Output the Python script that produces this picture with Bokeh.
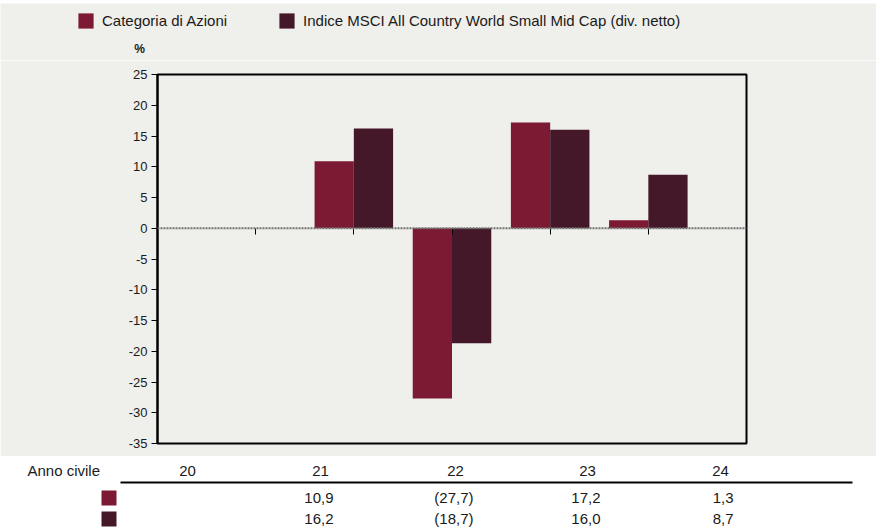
from bokeh.plotting import figure
from bokeh.models import (Range1d, Span, Legend, LegendItem, FixedTicker,
                          CustomJSTickFormatter)
from bokeh.layouts import column
from bokeh.embed import file_html
from bokeh.resources import INLINE
from bokeh.core.properties import value
import math

# ---------------- data ----------------
years = ["20", "21", "22", "23", "24"]
categoria = [float("nan"), 10.9, -27.7, 17.2, 1.3]
indice = [float("nan"), 16.2, -18.7, 16.0, 8.7]
series_names = ["Categoria di Azioni",
                "Indice MSCI All Country World Small Mid Cap (div. netto)"]
y_ticks = [-35, -30, -25, -20, -15, -10, -5, 0, 5, 10, 15, 20, 25]
y_unit = "%"
table_header = "Anno civile"

# ---------------- style ----------------
RED = "#7d1a33"
DARK = "#441829"
PANEL = "#efefeb"
TXT = "#1a1a1a"
FONT = "Liberation Sans"
W, H_LEG, H_TOP, H_BOT = 876, 60, 396, 72

pos = [i + 1 for i in range(len(years))]

# ---------------- legend strip ----------------
lg = figure(width=W, height=H_LEG, output_backend="svg", toolbar_location=None,
            x_range=Range1d(0, W), y_range=Range1d(H_LEG - 3, 0),
            min_border=0, min_border_top=3, background_fill_color=PANEL,
            border_fill_color="white", outline_line_color=None,
            x_axis_location=None, y_axis_location=None, frame_align=False)
lg.grid.visible = False
# legend proxies (hidden renderers carrying the same series)
lr1 = lg.vbar(x=pos, top=categoria, width=0.4, fill_color=RED, line_color=None, visible=False)
lr2 = lg.vbar(x=pos, top=indice, width=0.4, fill_color=DARK, line_color=None, visible=False)
legend = Legend(items=[LegendItem(label=series_names[0], renderers=[lr1], index=1),
                       LegendItem(label=series_names[1], renderers=[lr2], index=1)],
                orientation="horizontal", location=(76, 30),
                glyph_width=19, glyph_height=19, label_height=19, label_standoff=7,
                spacing=50, padding=0, margin=0,
                inactive_fill_alpha=0, click_policy="none",
                border_line_color=None, background_fill_alpha=0,
                label_text_font=FONT, label_text_font_size="15px", label_text_color=TXT)
lg.add_layout(legend, "center")
lg.text(x=[139], y=[45], text=[y_unit], text_font=value(FONT), text_font_size="12px",
        text_font_style="bold", text_align="center", text_baseline="middle", text_color=TXT)

# ---------------- chart ----------------
p = figure(width=W, height=H_TOP, output_backend="svg", toolbar_location=None,
           x_range=Range1d(0, len(years) + 1), y_range=Range1d(y_ticks[0], y_ticks[-1]),
           min_border_left=157, min_border_right=130, min_border_top=14, min_border_bottom=13,
           background_fill_color=PANEL, border_fill_color=PANEL,
           outline_line_color="black", outline_line_width=2, frame_align=False)
p.grid.visible = False

p.vbar(x=[x - 0.2 for x in pos], width=0.4, top=categoria, bottom=0,
       fill_color=RED, line_color=None)
p.vbar(x=[x + 0.2 for x in pos], width=0.4, top=indice, bottom=0,
       fill_color=DARK, line_color=None)

p.add_layout(Span(location=0, dimension="width", line_color="#707070",
                  line_width=2, line_dash="2 1"))

xa = p.xaxis[0]
xa.fixed_location = 0
xa.ticker = FixedTicker(ticks=pos)
xa.axis_line_color = None
xa.major_tick_in = 0
xa.major_tick_out = 6
xa.major_tick_line_color = "black"
xa.minor_tick_line_color = None
xa.major_label_text_font_size = "0px"
xa.major_label_text_alpha = 0

ya = p.yaxis[0]
ya.ticker = FixedTicker(ticks=y_ticks)
ya.formatter = CustomJSTickFormatter(code="return tick.toString()")
ya.axis_line_color = "black"
ya.axis_line_width = 2
ya.major_tick_in = 0
ya.major_tick_out = 6
ya.major_tick_line_color = "black"
ya.minor_tick_line_color = None
ya.major_label_text_font = FONT
ya.major_label_text_font_size = "13px"
ya.major_label_text_color = TXT
ya.major_label_standoff = 4

# ---------------- table ----------------
col_x = [187, 320, 455, 587, 720]
val_right = [c + 13 for c in col_x]
hdr_y, line_y, row_y = 14, 26, [41, 62]

t = figure(width=W, height=H_BOT, output_backend="svg", toolbar_location=None,
           x_range=Range1d(0, W), y_range=Range1d(H_BOT, 0),
           min_border=0, background_fill_color="white", border_fill_color="white",
           outline_line_color=None, x_axis_location=None, y_axis_location=None,
           frame_align=False)
t.grid.visible = False

def fmt(v):
    if v is None or (isinstance(v, float) and math.isnan(v)):
        return ""
    s = f"{abs(v):.1f}".replace(".", ",")
    return f"({s})" if v < 0 else s

t.text(x=[27], y=[hdr_y], text=[table_header], text_font=value(FONT),
       text_font_size="15px", text_align="left", text_baseline="middle", text_color=TXT)
t.text(x=col_x, y=[hdr_y] * len(years), text=years, text_font=value(FONT),
       text_font_size="15px", text_align="center", text_baseline="middle", text_color=TXT)
t.segment(x0=[120], x1=[852], y0=[line_y], y1=[line_y], line_color="black", line_width=2)
t.rect(x=[108.5, 108.5], y=[r + 0.5 for r in row_y], width=15, height=15,
       fill_color=[RED, DARK], line_color=None)
for series, ry in zip([categoria, indice], row_y):
    txt = [fmt(v) for v in series]
    xs = [xr + (5 if (not math.isnan(v) and v < 0) else 0) for xr, v in zip(val_right, series)]
    t.text(x=xs, y=[ry] * len(txt), text=txt, text_font=value(FONT),
           text_font_size="15px", text_align="right", text_baseline="middle", text_color=TXT)

layout = column(lg, p, t, spacing=0)
open("out.html", "w").write(file_html(layout, INLINE))
